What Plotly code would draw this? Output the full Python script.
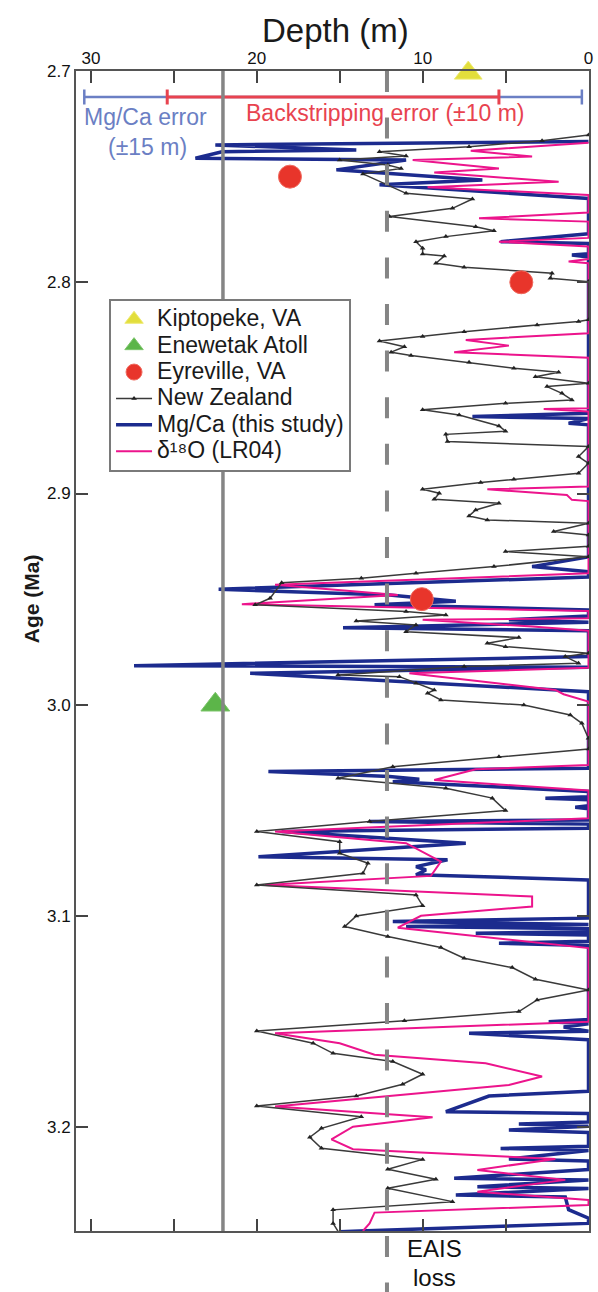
import plotly.graph_objects as go

# ---------------- data (depth in m, age in Ma) ----------------
nz_depth = [0, 2.8, 7.2, 12.6, 11.0, 15.0, 12.1, 11.3, 13.6, 11.0, 7.0, 8.2, 12.0, 6.8, 5.7, 8.6, 10.4, 10.0,
            10.0, 8.7, 9.2, 7.5, 2.2, 2.3, 0, 0, 0.6, 3.1, 7.5, 10.0, 12.6, 11.1, 11.9, 10.7, 7.2, 4.5, 1.8, 3.2,
            0, 2.5, 1.6, 1.0, 5.0, 10.0, 7.8, 5.4, 5.0, 8.6, 8.5, 0, 0.6, 0, 0.6, 4.5, 6.5, 10.0, 9.0, 9.3, 5.4,
            6.8, 7.2, 6.1, 0, 2.1, 0, 0, 5.0, 0, 5.7, 10.4, 13.7, 18.5, 19.2, 20.1, 11.0, 8.6, 14.0, 10.4, 11.0,
            4.2, 6.1, 5.0, 0, 1.4, 0.6, 7.5, 15.1, 11.4, 10.4, 9.3, 9.7, 8.9, 3.9, 1.1, 0.4, 0, 0, 5.4, 11.8,
            15.1, 8.6, 5.8, 5.0, 13.2, 20.0, 15.0, 15.0, 13.3, 13.6, 20.0, 10.4, 10.0, 14.0, 14.7, 12.1, 8.9,
            7.5, 4.6, 3.2, 0, 3.1, 4.2, 11.1, 20.0, 16.6, 15.4, 11.8, 10.0, 11.2, 14.0, 20.0, 13.7, 16.1, 16.8,
            16.1, 10.0, 12.1, 9.2, 12.1, 8.2, 15.4, 15.4, 15.0]
nz_age = [2.7303, 2.7330, 2.7358, 2.7382, 2.7402, 2.7421, 2.7445, 2.7461, 2.7487, 2.7579, 2.7606, 2.7650,
          2.7689, 2.7737, 2.7756, 2.7784, 2.7808, 2.7839, 2.7866, 2.7876, 2.7910, 2.7929, 2.7957, 2.7981,
          2.7997, 2.8178, 2.8186, 2.8202, 2.8234, 2.8257, 2.8278, 2.8305, 2.8331, 2.8347, 2.8379, 2.8407,
          2.8426, 2.8447, 2.8478, 2.8494, 2.8526, 2.8557, 2.8573, 2.8604, 2.8628, 2.8680, 2.8705, 2.8720,
          2.8754, 2.8778, 2.8825, 2.8857, 2.8904, 2.8933, 2.8948, 2.8980, 2.8999, 2.9027, 2.9046, 2.9078,
          2.9106, 2.9125, 2.9141, 2.9180, 2.9196, 2.9250, 2.9275, 2.9299, 2.9346, 2.9378, 2.9401, 2.9422,
          2.9496, 2.9527, 2.9559, 2.9575, 2.9603, 2.9622, 2.9654, 2.9682, 2.9709, 2.9725, 2.9756, 2.9772,
          2.9803, 2.9819, 2.9859, 2.9867, 2.9898, 2.9930, 2.9945, 2.9977, 3.0001, 3.0048, 3.0088, 3.0159,
          3.0209, 3.0246, 3.0293, 3.0348, 3.0395, 3.0442, 3.0501, 3.0553, 3.0600, 3.0648, 3.0703, 3.0750,
          3.0798, 3.0853, 3.0900, 3.0951, 3.1000, 3.1050, 3.1097, 3.1149, 3.1200, 3.1244, 3.1299, 3.1350,
          3.1397, 3.1452, 3.1496, 3.1544, 3.1602, 3.1650, 3.1689, 3.1749, 3.1796, 3.1852, 3.1899, 3.1950,
          3.2005, 3.2047, 3.2099, 3.2152, 3.2199, 3.2246, 3.2289, 3.2352, 3.2391, 3.2455, 3.2505]

mgca_depth = [0, 22.5, 14.0, 22.1, 23.7, 11.0, 15.2, 6.4, 12.6, 0,
              0, 5.3, 0, 0, 1.0, 0,
              0, 7.0, 0, 1.2, 0,
              0, 3.4, 0, 0, 22.3, 12.0, 8.0, 12.9, 0,
              0, 4.8, 0, 14.8, 0,
              0, 27.4, 0, 20.4, 0,
              0, 19.3, 12.0, 10.2, 11.8, 0, 0, 2.6, 0, 0, 0.8, 0,
              0, 13.2, 0, 0, 18.5, 7.4, 19.9, 8.5, 10.4, 9.8, 10.4, 0,
              0, 11.8, 0, 11.0, 0, 0, 6.8, 0, 0, 5.4, 0,
              0, 2.4, 0, 1.5, 0, 7.2, 0,
              0, 6.0, 8.6, 0, 0, 4.2, 0, 4.8, 0, 0, 5.3, 0, 4.8, 0, 0, 8.1, 0, 6.7, 0, 8.0, 1.4, 1.2,
              0, 0, 13.8, 15.0]
mgca_age = [2.7334, 2.7350, 2.7374, 2.7382, 2.7413, 2.7421, 2.7468, 2.7516, 2.7539, 2.7603,
            2.7770, 2.7808, 2.7816, 2.7865, 2.7871, 2.7880,
            2.8620, 2.8636, 2.8645, 2.8668, 2.8675,
            2.9300, 2.9346, 2.9370, 2.9395, 2.9453, 2.9480, 2.9510, 2.9527, 2.9551,
            2.9580, 2.9598, 2.9610, 2.9635, 2.9650,
            2.9772, 2.9815, 2.9822, 2.9851, 2.9938,
            3.0300, 3.0316, 3.0340, 3.0353, 3.0364, 3.0411, 3.0435, 3.0442, 3.0450, 3.0478, 3.0485, 3.0492,
            3.0545, 3.0553, 3.0565, 3.0584, 3.0600, 3.0655, 3.0719, 3.0734, 3.0766, 3.0782, 3.0805, 3.0829,
            3.1010, 3.1026, 3.1040, 3.1050, 3.1060, 3.1075, 3.1081, 3.1090, 3.1120, 3.1129, 3.1140,
            3.1490, 3.1500, 3.1510, 3.1525, 3.1545, 3.1555, 3.1586,
            3.1830, 3.1852, 3.1926, 3.1935, 3.1975, 3.1985, 3.1995, 3.2013, 3.2025, 3.2090, 3.2100, 3.2110,
            3.2150, 3.2160, 3.2200, 3.2241, 3.2250, 3.2281, 3.2290, 3.2320, 3.2330, 3.2390,
            3.2430, 3.2455, 3.2491, 3.2495]

d18o_depth = [0, 7.1, 3.4, 10.6, 5.4, 9.3, 1.8, 9.7, 0, 0, 6.6, 0, 0, 5.4, 0, 0, 1.2, 0,
              0, 7.4, 4.8, 8.1, 0, 0, 2.7, 0, 0, 6.1, 1.3, 1.0, 0,
              0, 18.9, 11.5, 20.9, 0, 0, 10.0, 3.4, 0, 0, 10.8, 2.0, 1.5, 0,
              0, 6.8, 9.3, 0, 0, 18.9, 11.0, 8.9, 9.5, 19.5, 3.4, 3.4, 10.1, 11.5, 0,
              0, 18.9, 15.0, 12.9, 6.2, 2.8, 4.8, 18.9, 9.4, 14.2, 15.5, 14.2, 2.0, 6.7, 1.4, 6.7, 0,
              0, 12.9, 13.2, 13.6]
d18o_age = [2.7340, 2.7377, 2.7405, 2.7421, 2.7461, 2.7481, 2.7524, 2.7550, 2.7587, 2.7670, 2.7697,
            2.7713, 2.7790, 2.7808, 2.7831, 2.7890, 2.7902, 2.7910,
            2.8241, 2.8273, 2.8300, 2.8331, 2.8357, 2.8597, 2.8600, 2.8612, 2.8967, 2.8980, 2.9007,
            2.9030, 2.9036,
            2.9378, 2.9432, 2.9480, 2.9524, 2.9556, 2.9590, 2.9598, 2.9630, 2.9650, 2.9825, 2.9851,
            2.9930, 2.9950, 2.9985,
            3.0285, 3.0305, 3.0356, 3.0406, 3.0537, 3.0600, 3.0655, 3.0742, 3.0810, 3.0853, 3.0908,
            3.0955, 3.0999, 3.1055, 3.1152,
            3.1500, 3.1555, 3.1602, 3.1657, 3.1697, 3.1760, 3.1800, 3.1902, 3.1953, 3.1997, 3.2057,
            3.2104, 3.2150, 3.2202, 3.2249, 3.2305, 3.2344,
            3.2368, 3.2404, 3.2455, 3.2491]

kip_depth = [7.25]
kip_age = [2.701]
ene_depth = [22.5]
ene_age = [3.0]
eyre_depth = [18.0, 4.05, 10.05]
eyre_age = [2.75, 2.80, 2.95]

# error bars (centre depth, half width) and reference lines
err_age = 2.7123
err_center = 15.4
mgca_err = 15
backstrip_err = 10
ref_solid = 22.04
ref_dash = 12.15

age_ticks = [2.7, 2.8, 2.9, 3.0, 3.1, 3.2]
age_labels = ["2.7", "2.8", "2.9", "3.0", "3.1", "3.2"]
depth_ticks = [0, 10, 20, 30]
depth_labels = ["0", "10", "20", "30"]

# ---------------- styling ----------------
FONT = "Liberation Sans, Arial, Helvetica, sans-serif"
NAVY = "#1c2b8e"
PINK = "#ec148c"
NZ = "#3a3a3a"
ERR_BLUE = "#6b7fc4"
ERR_RED = "#e8434f"
GRAY = "#858585"


def leg(name):
    return '<span style="font-size:23px">' + name + "</span>"


fig = go.Figure()

fig.add_trace(go.Scatter(x=mgca_depth, y=mgca_age, mode="lines", name=leg("Mg/Ca (this study)"),
                         line=dict(color=NAVY, width=3.5), legendrank=5))
fig.add_trace(go.Scatter(x=d18o_depth, y=d18o_age, mode="lines", name=leg("δ¹⁸O (LR04)"),
                         line=dict(color=PINK, width=2), legendrank=6))
fig.add_trace(go.Scatter(x=nz_depth, y=nz_age, mode="lines+markers", name=leg("New Zealand"),
                         line=dict(color=NZ, width=1.5),
                         marker=dict(symbol="triangle-up", size=5, color="#222"), legendrank=4))

fig.add_trace(go.Scatter(x=[err_center], y=[err_age], mode="markers", showlegend=False,
                         marker=dict(size=1, color="rgba(0,0,0,0)"),
                         error_x=dict(type="data", array=[mgca_err], color=ERR_BLUE, thickness=2.5, width=7.5)))
fig.add_trace(go.Scatter(x=[err_center], y=[err_age], mode="markers", showlegend=False,
                         marker=dict(size=1, color="rgba(0,0,0,0)"),
                         error_x=dict(type="data", array=[backstrip_err], color=ERR_RED, thickness=3, width=7.5)))

fig.add_trace(go.Scatter(x=kip_depth, y=kip_age, mode="markers", name=leg("Kiptopeke, VA"), cliponaxis=False,
                         marker=dict(symbol="triangle-up", size=24, color="#e2de3c",
                                     line=dict(color="#eeea70", width=1)), legendrank=1))
fig.add_trace(go.Scatter(x=ene_depth, y=ene_age, mode="markers", name=leg("Enewetak Atoll"), cliponaxis=False,
                         marker=dict(symbol="triangle-up", size=25, color="#5cb549",
                                     line=dict(color="#7cc56a", width=1)), legendrank=2))
fig.add_trace(go.Scatter(x=eyre_depth, y=eyre_age, mode="markers", name=leg("Eyreville, VA"), cliponaxis=False,
                         marker=dict(symbol="circle", size=23, color="#e8352b",
                                     line=dict(color="#f06a5e", width=1)), legendrank=3))

# reference lines
fig.add_shape(type="line", xref="x", yref="paper", x0=ref_solid, x1=ref_solid, y0=0, y1=1,
              line=dict(color=GRAY, width=3.5), layer="above")
fig.add_shape(type="line", xref="x", yref="paper", x0=ref_dash, x1=ref_dash, y0=1.0, y1=-0.06,
              line=dict(color=GRAY, width=4, dash="21px,25.6px"), layer="above")

ann = [
    dict(text="Depth (m)", xref="paper", yref="paper", x=0.506, y=1.0345, font=dict(size=33, color="#1a1a1a")),
    dict(text="<b>Age (Ma)</b>", xref="paper", yref="paper", x=-0.087, y=0.545, textangle=-90,
         font=dict(size=21, color="#1a1a1a")),
    dict(text="Mg/Ca error", xref="x", yref="y", x=26.7, y=2.7218, font=dict(size=23, color=ERR_BLUE)),
    dict(text="(±15 m)", xref="x", yref="y", x=26.6, y=2.7360, font=dict(size=23, color=ERR_BLUE)),
    dict(text="Backstripping error (±10 m)", xref="x", yref="y", x=12.3, y=2.7199,
         font=dict(size=23, color=ERR_RED)),
    dict(text="EAIS", xref="x", yref="paper", x=9.26, y=-0.0147, font=dict(size=24, color="#111")),
    dict(text="loss", xref="x", yref="paper", x=9.26, y=-0.0405, font=dict(size=24, color="#111")),
]
for a in ann:
    a.update(showarrow=False, xanchor="center", yanchor="middle", borderpad=0)

tick_style = dict(ticks="inside", ticklen=12, tickwidth=2, tickcolor="#444", showline=True, linecolor="#555",
                  linewidth=2, mirror="ticks", showgrid=False, zeroline=False)

fig.update_layout(
    width=598, height=1292,
    margin=dict(l=76, r=5, t=71, b=61),
    paper_bgcolor="white", plot_bgcolor="white",
    font=dict(family=FONT, color="#1a1a1a"),
    annotations=ann,
    legend=dict(x=0.0644, y=0.8034, xanchor="left", yanchor="top", bgcolor="white",
                bordercolor="#7a7a7a", borderwidth=2, font=dict(size=18, color="#1a1a1a"),
                tracegroupgap=0, itemwidth=36),
    xaxis=dict(range=[30.9, -0.03], side="top", tickmode="array", tickvals=depth_ticks, ticktext=depth_labels,
               ticklabeloverflow="allow", tickfont=dict(size=17, color="#111"), ticklabelstandoff=-2,
               minor=dict(tick0=0, dtick=5, ticks="inside", ticklen=12, tickwidth=2, tickcolor="#444",
                          showgrid=False),
               **tick_style),
    yaxis=dict(range=[3.2491, 2.7], tickmode="array", tickvals=age_ticks, ticktext=age_labels,
               tickfont=dict(size=17, color="#111"), **tick_style),
)

fig.write_html("out.html", config={"displayModeBar": False},
               post_script="document.body.style.margin='0px';document.body.style.overflow='hidden';")
